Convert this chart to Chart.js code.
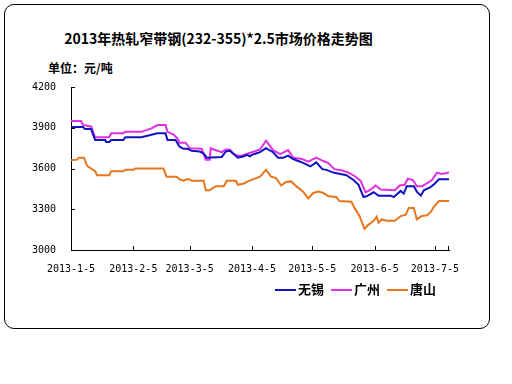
<!DOCTYPE html>
<html>

<head>
    <meta charset="utf-8">
    <title>2013年热轧窄带钢市场价格走势图</title>
    <script src="https://cdn.jsdelivr.net/npm/chart.js@4.4.1/dist/chart.umd.min.js"></script>
    <style>
        body { margin: 0; background: #fff; }
        #wrap { position: relative; width: 512px; height: 384px; overflow: hidden; }
        #frame { position: absolute; left: 4px; top: 4px; width: 484px; height: 323px; border: 1px solid #000; border-radius: 10px; }
        #title { position: absolute; left: 0; width: 437px; top: 28px; text-align: center; font: bold 14px "Noto Sans CJK SC", sans-serif; color: #000; }
        #unit { position: absolute; left: 48px; top: 59px; font: bold 12px "Noto Sans CJK SC", sans-serif; color: #000; }
        #legend { position: absolute; left: 275px; top: 279px; font: bold 13px "Noto Sans CJK SC", sans-serif; color: #000; white-space: nowrap; }
        #legend span.item { display: inline-block; margin-right: 7px; }
        #legend span.line { display: inline-block; width: 21px; height: 2px; vertical-align: middle; margin-right: 2px; }
        canvas { position: absolute; left: 0; top: 0; }
    </style>
</head>

<body>
    <div id="wrap">
        <div id="frame"></div>
        <div id="title">2013年热轧窄带钢(232-355)*2.5市场价格走势图</div>
        <div id="unit">单位：元/吨</div>
        <canvas id="priceChart" width="512" height="384"></canvas>
        <div id="legend"></div>
    </div>
    <script type="text/javascript">
    // x = days after 2013-1-5
    var tickDays = [0, 31, 59, 90, 120, 151, 181];
    var tickLabels = ["2013-1-5", "2013-2-5", "2013-3-5", "2013-4-5", "2013-5-5", "2013-6-5", "2013-7-5"];
    var seriesNames = ["无锡", "广州", "唐山"];
    var seriesColors = ["#1212C4", "#E030E0", "#E8761E"];

    var wuxiDays = [0, 1, 6, 7, 10, 12, 17, 17.5, 19, 20, 26, 27, 35, 39, 43, 47, 48, 52, 54, 56, 58, 60, 64, 66, 67.5, 75, 77, 79, 81, 83, 86, 87.5, 89, 90, 92, 94, 97, 100.5, 103, 105.5, 108, 110.5, 114, 117, 119, 122, 125, 127, 130.5, 134, 137, 140.5, 143, 145.5, 147, 150.5, 153, 159, 160.5, 164, 165.5, 167, 170.5, 172, 174, 175.5, 179, 181, 183, 188];
    var wuxiPrices = [3890, 3905, 3905, 3890, 3890, 3810, 3810, 3795, 3795, 3810, 3810, 3830, 3830, 3845, 3860, 3860, 3810, 3810, 3760, 3745, 3745, 3730, 3725, 3710, 3680, 3685, 3725, 3730, 3705, 3680, 3690, 3700, 3690, 3700, 3710, 3720, 3750, 3720, 3680, 3680, 3695, 3670, 3650, 3630, 3615, 3645, 3595, 3590, 3570, 3560, 3550, 3515, 3480, 3390, 3395, 3425, 3400, 3400, 3390, 3435, 3415, 3470, 3470, 3430, 3400, 3440, 3465, 3490, 3520, 3520];

    var guangzhouDays = [0, 5, 6, 10, 12, 19, 20, 26, 27, 35, 40, 43, 47, 48, 51, 53, 54, 57, 59, 65, 67, 69, 69.5, 71, 75, 77, 79, 81, 84, 87, 90, 94, 97, 100.5, 104, 108, 110.5, 115, 118, 122, 125.5, 128, 131, 135, 138, 141, 144, 146.5, 149, 151.5, 154, 161, 163.5, 166, 167.5, 170, 172, 174.5, 177, 179.5, 182, 184.5, 188];
    var guangzhouPrices = [3950, 3950, 3920, 3910, 3830, 3830, 3860, 3860, 3870, 3870, 3895, 3920, 3920, 3870, 3850, 3820, 3790, 3790, 3750, 3745, 3665, 3665, 3750, 3740, 3720, 3740, 3740, 3705, 3690, 3705, 3720, 3740, 3805, 3735, 3705, 3735, 3680, 3670, 3650, 3680, 3655, 3640, 3595, 3585, 3570, 3545, 3510, 3425, 3445, 3475, 3445, 3440, 3475, 3480, 3525, 3515, 3470, 3470, 3490, 3515, 3570, 3560, 3570];

    var tangshanDays = [0, 3, 4, 6.5, 8, 10, 12, 13, 19, 20, 26, 27, 31, 32, 46, 47.5, 52.5, 54, 56, 57.5, 59, 60, 66, 67, 69, 70, 72, 76, 77.5, 82, 83, 86, 88, 90.5, 94, 97, 99.5, 102, 104.5, 107, 109.5, 112, 115.5, 118, 120.5, 123, 125.5, 128, 132, 133.5, 139.5, 141, 143.5, 146, 147.5, 150.5, 152, 153, 154.5, 157, 161, 164, 166.5, 168, 170.5, 172, 174.5, 177, 179, 180.5, 183, 188];
    var tangshanPrices = [3660, 3665, 3680, 3680, 3620, 3600, 3580, 3550, 3550, 3580, 3580, 3590, 3590, 3600, 3600, 3540, 3540, 3520, 3510, 3520, 3520, 3510, 3510, 3440, 3440, 3450, 3470, 3470, 3510, 3510, 3480, 3490, 3505, 3520, 3540, 3590, 3540, 3530, 3475, 3500, 3505, 3470, 3430, 3380, 3420, 3430, 3420, 3395, 3390, 3360, 3355, 3310, 3250, 3155, 3180, 3215, 3245, 3200, 3225, 3215, 3215, 3250, 3260, 3310, 3310, 3225, 3250, 3255, 3280, 3320, 3360, 3360];

    function toPoints(days, prices) {
        var pts = [];
        for (var i = 0; i < days.length; i++) {
            pts.push({ x: days[i], y: prices[i] });
        }
        return pts;
    }

    var allDays = [wuxiDays, guangzhouDays, tangshanDays];
    var allPrices = [wuxiPrices, guangzhouPrices, tangshanPrices];
    var datasets = [];
    for (var s = 0; s < seriesNames.length; s++) {
        datasets.push({
            label: seriesNames[s],
            data: toPoints(allDays[s], allPrices[s]),
            borderColor: seriesColors[s],
            borderWidth: 2,
            pointRadius: 0,
            tension: 0,
            fill: false
        });
    }

    // legend as html
    var legendHtml = "";
    for (var k = 0; k < seriesNames.length; k++) {
        legendHtml += '<span class="item"><span class="line" style="background:' + seriesColors[k] + '"></span>' + seriesNames[k] + '</span>';
    }
    document.getElementById("legend").innerHTML = legendHtml;

    // small tick marks pointing into the plot, like the original
    var innerTicks = {
        id: "innerTicks",
        afterDraw: function(chart) {
            var ctx = chart.ctx;
            var xs = chart.scales.x, ys = chart.scales.y;
            var area = chart.chartArea;
            ctx.save();
            ctx.strokeStyle = "#000";
            ctx.lineWidth = 1;
            ctx.beginPath();
            ys.ticks.forEach(function(t) {
                var py = Math.round(ys.getPixelForValue(t.value)) + 0.5;
                ctx.moveTo(area.left, py);
                ctx.lineTo(area.left + 4, py);
            });
            xs.ticks.forEach(function(t) {
                var px = Math.round(xs.getPixelForValue(t.value)) + 0.5;
                ctx.moveTo(px, area.bottom);
                ctx.lineTo(px, area.bottom - 4);
            });
            var endX = Math.round(xs.getPixelForValue(xs.max)) - 0.5;
            ctx.moveTo(endX, area.bottom);
            ctx.lineTo(endX, area.bottom - 4);
            ctx.stroke();
            ctx.restore();
        }
    };

    var tickFont = { family: "'DejaVu Sans Mono', monospace", size: 10 };

    new Chart(document.getElementById("priceChart"), {
        type: "line",
        data: { datasets: datasets },
        options: {
            responsive: false,
            animation: false,
            layout: { padding: { left: 0, right: 63, top: 87, bottom: 104 } },
            plugins: { legend: { display: false }, tooltip: { enabled: false } },
            scales: {
                x: {
                    type: "linear",
                    min: 0,
                    max: 188,
                    afterBuildTicks: function(scale) {
                        scale.ticks = tickDays.map(function(d) { return { value: d }; });
                    },
                    afterFit: function(scale) { scale.height = 30; },
                    grid: { display: false },
                    border: { display: true, color: "#000", width: 1 },
                    ticks: {
                        color: "#000",
                        font: tickFont,
                        padding: 5,
                        maxRotation: 0,
                        autoSkip: false,
                        callback: function(value) {
                            var i = tickDays.indexOf(value);
                            return i >= 0 ? tickLabels[i] : "";
                        }
                    }
                },
                y: {
                    min: 3000,
                    max: 4200,
                    afterFit: function(scale) { scale.width = 71; },
                    grid: { display: false },
                    border: { display: true, color: "#000", width: 1 },
                    ticks: {
                        stepSize: 300,
                        color: "#000",
                        font: tickFont,
                        padding: 7,
                        callback: function(value) { return String(value); }
                    }
                }
            }
        },
        plugins: [innerTicks]
    });
    </script>
</body>

</html>
